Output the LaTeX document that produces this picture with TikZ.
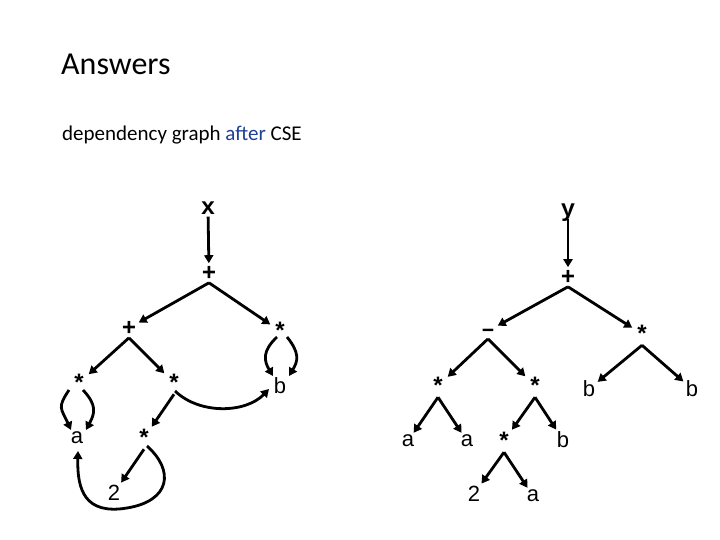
\documentclass[tikz,border=0pt]{standalone}
\usepackage{fontspec}
\setmainfont{Carlito}
\newfontfamily\codefont{Liberation Mono}
\newfontfamily\arialfont{Liberation Sans}
\usetikzlibrary{arrows.meta,calc}
\definecolor{afterblue}{RGB}{31,64,148}
\begin{document}
\begin{tikzpicture}[x=1pt,y=-1pt,
  lab/.style={inner sep=1pt,outer sep=1.5pt,anchor=center},
  opfont/.style={font=\codefont\bfseries\fontsize{24}{24}\selectfont},
  opstar/.style={lab,opfont,text height=17.5pt,text depth=-8pt},
  opplus/.style={lab,opfont,text height=14.6pt,text depth=-2.6pt},
  opminus/.style={lab,opfont,text height=10.7pt,text depth=-5.3pt},
  opvar/.style={lab,opfont,text height=10.1pt,text depth=0pt},
  low/.style={lab,font=\arialfont\fontsize{22}{22}\selectfont,text height=11.4pt,text depth=0pt},
  tall/.style={lab,font=\arialfont\fontsize{22}{22}\selectfont,text height=15.8pt,text depth=0pt},
  arr/.style={line width=2.8pt,-{Triangle[length=8pt,width=9pt]},line join=round},
]
\useasboundingbox (0,0) rectangle (720,540);
\fill[white] (0,0) rectangle (720,540);
% titles
\node[anchor=base west,inner sep=0,font=\fontsize{32}{38}\selectfont] (title) at (61,75) {Answers};
\node[anchor=base west,inner sep=0,font=\fontsize{21}{25}\selectfont] (sub) at (62,141) {dependency graph \textcolor{afterblue}{after} CSE};
% left graph
\node[opvar]  (x1) at (208,209) {x};
\node[opplus] (p1) at (209,273) {+};
\node[opplus] (p2) at (129,328) {+};
\node[opstar] (m1) at (280,331) {*};
\node[opstar] (m2) at (79,383) {*};
\node[opstar] (m3) at (174,383) {*};
\node[tall]   (b1) at (280,386) {b};
\node[low]    (a1) at (77,438) {a};
\node[opstar] (m4) at (144,438) {*};
\node[tall]   (n2) at (114,493) {2};
% right graph
\node[opvar]   (y1) at (568,211) {y};
\node[opplus]  (p3) at (568,277) {+};
\node[opminus] (s1) at (488,331) {\textendash};
\node[opstar]  (m5) at (642,334) {*};
\node[opstar]  (m6) at (438,386) {*};
\node[opstar]  (m7) at (535,386) {*};
\node[tall]    (b2) at (589,389) {b};
\node[tall]    (b3) at (692,389) {b};
\node[low]     (a2) at (408,441) {a};
\node[low]     (a3) at (467,441) {a};
\node[opstar]  (m8) at (504,441) {*};
\node[tall]    (b4) at (563,440) {b};
\node[tall]    (n3) at (474,494) {2};
\node[low]     (a4) at (533,496) {a};
% left edges
\draw[arr] (x1) -- (p1);
\draw[arr] (p1.south) -- (p2);
\draw[arr] (p1.south) -- (m1);
\draw[arr] (p2.south) -- (m2);
\draw[arr] (p2.south) -- (m3);
\draw[arr] ($(m2)+(-10,7)$) .. controls ($(m2)+(-22,25)$) and ($(a1)+(-16,-30)$) .. ($(a1)+(-6,-8)$);
\draw[arr] ($(m2)+(4,7)$) .. controls ($(m2)+(18,22)$) and ($(a1)+(18,-25)$) .. ($(a1)+(9,-8)$);
\draw[arr] ($(m1)+(-3,6)$) .. controls ($(m1)+(-18,20)$) and ($(b1)+(-16,-25)$) .. ($(b1)+(-7,-10)$);
\draw[arr] ($(m1)+(7,6)$) .. controls ($(m1)+(20,22)$) and ($(b1)+(18,-25)$) .. ($(b1)+(9,-10)$);
\draw[arr] ($(m3)+(1,8)$) .. controls ($(m3)+(26,32)$) and ($(b1)+(-34,27)$) .. ($(b1)+(-11,3)$);
\draw[arr] (m3.south) -- (m4);
\draw[arr] (m4.south) -- (n2);
\draw[arr] ($(m4)+(3,8)$) .. controls ($(m4)+(31,33)$) and ($(m4)+(26,63)$) .. ($(m4)+(-17,70)$)
            .. controls ($(a1)+(8,77)$) and ($(a1)+(0,52)$) .. ($(a1)+(1,13)$);
% right edges
\draw[arr] (y1) -- (p3);
\draw[arr] (p3.south) -- (s1);
\draw[arr] (p3.south) -- (m5);
\draw[arr] (s1.south) -- (m6);
\draw[arr] (s1.south) -- (m7);
\draw[arr] (m5.south) -- (b2);
\draw[arr] (m5.south) -- (b3);
\draw[arr] (m6.south) -- (a2);
\draw[arr] (m6.south) -- (a3);
\draw[arr] (m7.south) -- (m8);
\draw[arr] (m7.south) -- (b4);
\draw[arr] (m8.south) -- (n3);
\draw[arr] (m8.south) -- (a4);
\end{tikzpicture}
\end{document}
